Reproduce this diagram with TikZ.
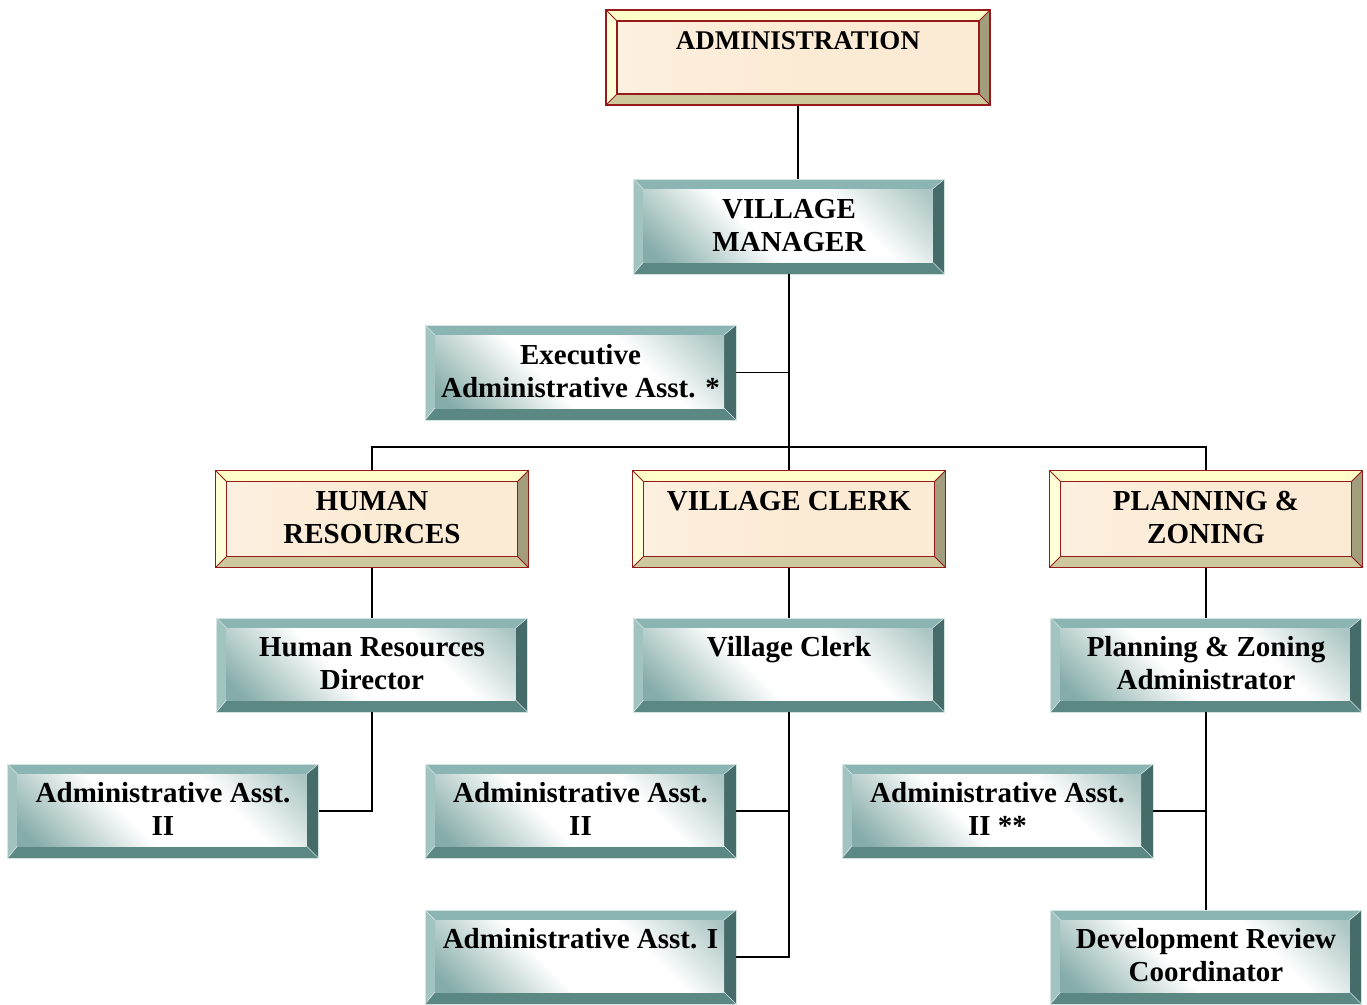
\documentclass[tikz,border=0pt]{standalone}
\usepackage{fontspec}
\setmainfont{Liberation Serif}
\usetikzlibrary{calc}

% teal bevel colours
\definecolor{tTop}{HTML}{8BB5B2}
\definecolor{tLeft}{HTML}{A2C4C1}
\definecolor{tRight}{HTML}{466C69}
\definecolor{tBot}{HTML}{5C8884}
\definecolor{tFace}{HTML}{85ACA8}
\definecolor{tFaceB}{HTML}{AAC5C3}
\definecolor{tEdge}{HTML}{D4E4E2}
% tan bevel colours
\definecolor{bRed}{HTML}{951B1B}
\definecolor{bTop}{HTML}{FFFFC9}
\definecolor{bLeft}{HTML}{FFFFD8}
\definecolor{bRight}{HTML}{A29D7D}
\definecolor{bBot}{HTML}{CDC99D}
\definecolor{bFace}{HTML}{FCEBD4}
\definecolor{bFaceB}{HTML}{FDF0E0}

% face of the teal boxes: teal at two opposite corners, a broad white band between
\pgfdeclarehorizontalshading{tealface}{100bp}{color(0bp)=(tFace); color(18bp)=(tFace);
  color(42bp)=(white); color(64bp)=(white); color(84bp)=(tFaceB); color(100bp)=(tFaceB)}

\begin{document}
\begin{tikzpicture}[x=1pt,y=-1pt,
  % common geometry of every box; baseline of the last line fixed for two-line text
  boxbase/.style={rectangle, inner sep=0pt, align=center,
    text height=55pt, text depth=6pt,
    font=\fontsize{29}{33}\selectfont\bfseries},
  % same first baseline for a single line of text
  oneline/.style={text height=22pt, text depth=39pt},
  tealbox/.style={boxbase, draw=tEdge, line width=0.8pt,
    minimum width=311pt, minimum height=95pt,
    path picture={
      \coordinate (nw) at (path picture bounding box.north west);
      \coordinate (ne) at (path picture bounding box.north east);
      \coordinate (sw) at (path picture bounding box.south west);
      \coordinate (se) at (path picture bounding box.south east);
      \coordinate (inw) at ($(nw)+(10pt,-10pt)$);
      \coordinate (ine) at ($(ne)+(-12pt,-10pt)$);
      \coordinate (isw) at ($(sw)+(10pt,12pt)$);
      \coordinate (ise) at ($(se)+(-12pt,12pt)$);
      \fill[tTop] (nw) -- (ne) -- (ine) -- (inw) -- cycle;
      \fill[tBot] (sw) -- (se) -- (ise) -- (isw) -- cycle;
      \fill[tLeft] (nw) -- (sw) -- (isw) -- (inw) -- cycle;
      \fill[tRight] (ne) -- (se) -- (ise) -- (ine) -- cycle;
      \shade[shading=tealface, shading angle=45] (inw) rectangle (ise);
      \draw[tEdge, line width=0.6pt] (nw) -- (inw) (ne) -- (ine)
        (sw) -- (isw) (se) -- (ise);
    }},
  tanbox/.style={boxbase, draw=bRed, line width=1.8pt,
    minimum width=313pt, minimum height=97pt,
    path picture={
      \coordinate (nw) at (path picture bounding box.north west);
      \coordinate (ne) at (path picture bounding box.north east);
      \coordinate (sw) at (path picture bounding box.south west);
      \coordinate (se) at (path picture bounding box.south east);
      \coordinate (inw) at ($(nw)+(11pt,-11pt)$);
      \coordinate (ine) at ($(ne)+(-11pt,-11pt)$);
      \coordinate (isw) at ($(sw)+(11pt,11pt)$);
      \coordinate (ise) at ($(se)+(-11pt,11pt)$);
      \fill[bTop] (nw) -- (ne) -- (ine) -- (inw) -- cycle;
      \fill[bBot] (sw) -- (se) -- (ise) -- (isw) -- cycle;
      \fill[bLeft] (nw) -- (sw) -- (isw) -- (inw) -- cycle;
      \fill[bRight] (ne) -- (se) -- (ise) -- (ine) -- cycle;
      \shade[left color=bFaceB, right color=bFace, middle color=bFace]
        (inw) rectangle (ise);
      \draw[bRed, line width=1.3pt] (inw) rectangle (ise);
      \draw[bRed, line width=0.8pt] (nw) -- (inw) (ne) -- (ine)
        (sw) -- (isw) (se) -- (ise);
    }},
  link/.style={draw=black, line width=1.8pt}
]
\useasboundingbox (0,0) rectangle (1367,1004);

% top of the chart
\node[tanbox, oneline, minimum width=384pt, minimum height=95pt,
  font=\fontsize{27}{30}\selectfont\bfseries] (admin) at (798,57.5) {ADMINISTRATION};
\node[tealbox] (vm) at (789,226.5) {VILLAGE\\MANAGER};
\node[tealbox] (exec) at (580.5,372.5) {Executive\\Administrative Asst. *};

% departments
\node[tanbox] (hr) at (372,519) {HUMAN\\RESOURCES};
\node[tanbox, oneline] (vc) at (789,519) {VILLAGE CLERK};
\node[tanbox] (pz) at (1206,519) {PLANNING \&\\ZONING};

% department heads
\node[tealbox, minimum height=94pt] (hrd) at (372,665) {Human Resources\\Director};
\node[tealbox, oneline, minimum height=94pt] (clerk) at (789,665) {Village Clerk};
\node[tealbox, minimum height=94pt] (pza) at (1206,665) {Planning \& Zoning\\Administrator};

% staff
\node[tealbox, minimum height=94pt] (aa1) at (163,811) {Administrative Asst.\\II};
\node[tealbox, minimum height=94pt] (aa2) at (580.5,811) {Administrative Asst.\\II};
\node[tealbox, minimum height=94pt] (aa3) at (997.5,811) {Administrative Asst.\\II **};
\node[tealbox, oneline, minimum height=94pt] (aai) at (580.5,957) {Administrative Asst. I};
\node[tealbox, minimum height=94pt] (drc) at (1206,957) {Development Review\\Coordinator};

% reporting lines
\coordinate (bus) at (789,447);
\draw[link] (admin.south) -- (admin.south |- vm.north);
\draw[link] (vm.south) -- (vc.north);
\draw[link] (exec.east) -- (exec.east -| vm.south);
\draw[link] (hr.north) |- (bus) -| (pz.north);
\draw[link] (hr.south) -- (hrd.north);
\draw[link] (hrd.south) |- (aa1.east);
\draw[link] (vc.south) -- (clerk.north);
\draw[link] (clerk.south) |- (aai.east);
\draw[link] (aa2.east) -- (aa2.east -| clerk.south);
\draw[link] (pz.south) -- (pza.north);
\draw[link] (pza.south) -- (drc.north);
\draw[link] (aa3.east) -- (aa3.east -| pza.south);
\end{tikzpicture}
\end{document}
